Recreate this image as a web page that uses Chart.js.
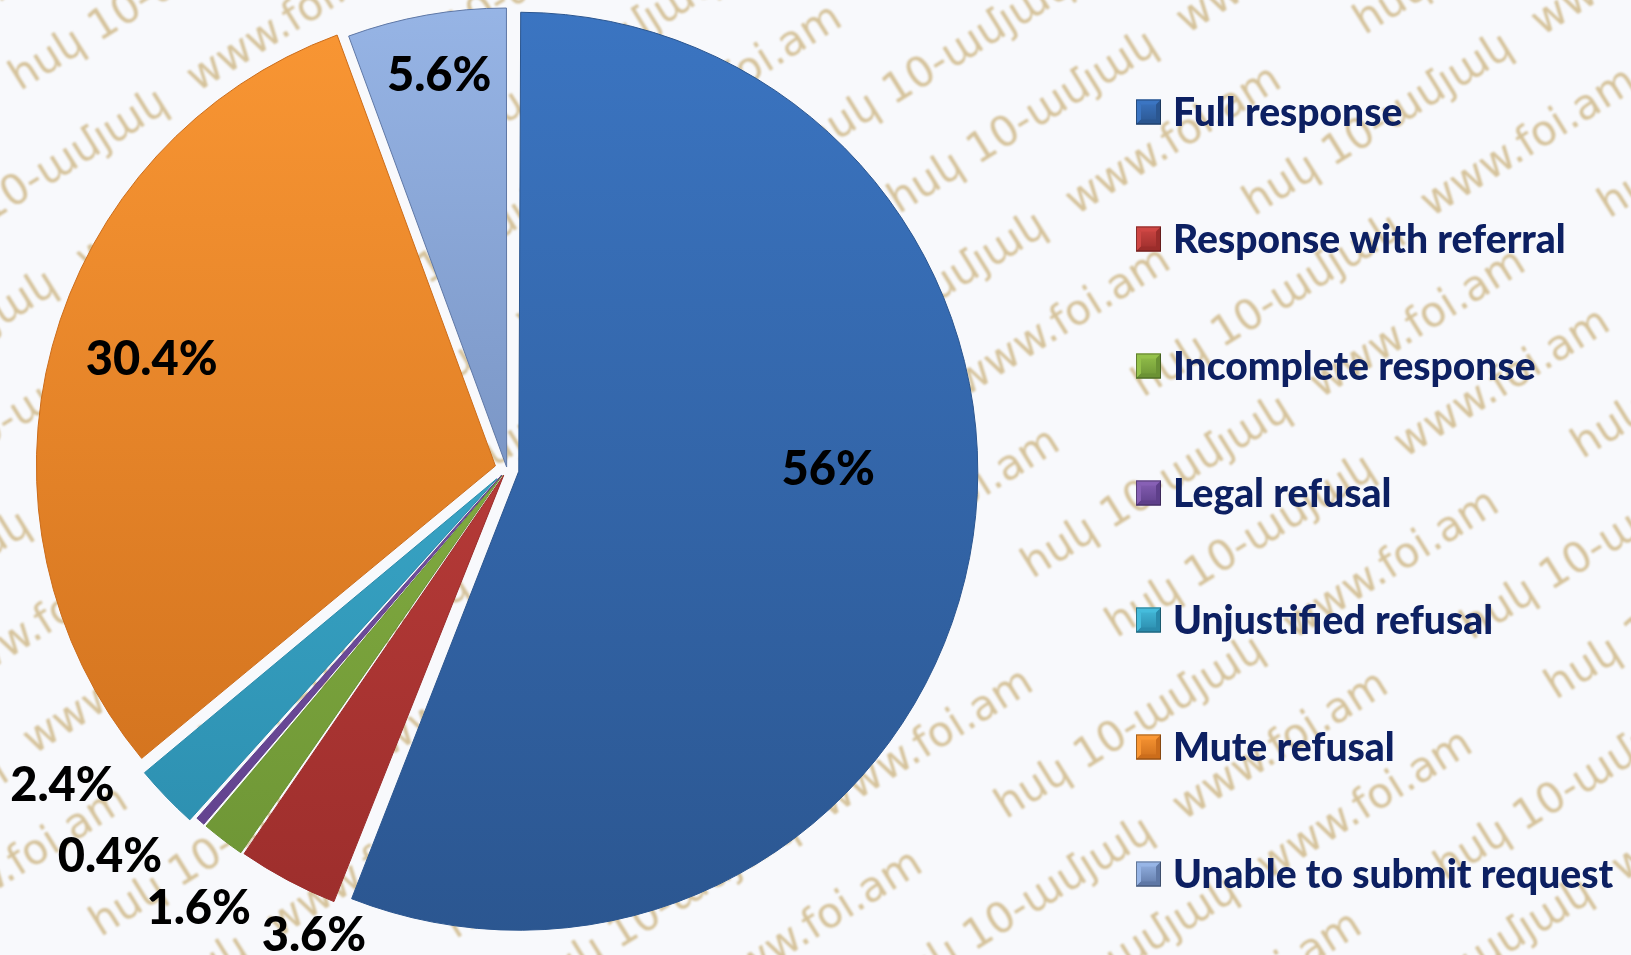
<!DOCTYPE html>
<html>
<head>
<meta charset="utf-8">
<script src="https://cdn.jsdelivr.net/npm/chart.js@4.4.1/dist/chart.umd.min.js"></script>
<style>
  html, body { margin: 0; padding: 0; background: #f8f9fc; }
  canvas { display: block; }
</style>
</head>
<body>
<canvas id="myChart" width="1631" height="955"></canvas>
<script>
// data
const categories = ['Full response', 'Response with referral', 'Incomplete response', 'Legal refusal',
                    'Unjustified refusal', 'Mute refusal', 'Unable to submit request'];
const shares = [56, 3.6, 1.6, 0.4, 2.4, 30.4, 5.6];

// look
const lightColors = ['#3b75c2', '#cf4744', '#95c24b', '#8760b5', '#45bcdc', '#fa9734', '#97b5e6'];
const darkColors  = ['#2b5690', '#9b2d2b', '#6b9234', '#5e3f8a', '#2a8aab', '#cc6d1b', '#5f78a6'];
const explode = [12, 7, 8, 8, 14, 12, 2];           // px each slice is pulled out
const labelDist = [0.70, 1.10, 1.17, 1.21, 1.19, 0.81, 0.87]; // x radius
const labelTurn = [-10.6, -5.6, -2.4, 4.6, 8.4, 2, 0.3];      // degrees from mid angle
const pieRadius = 459;

function sliceFill(context) {
  const i = context.dataIndex;
  const area = context.chart.chartArea;
  if (!area) return lightColors[i];
  const g = context.chart.ctx.createLinearGradient(0, area.top, 0, area.bottom);
  g.addColorStop(0, lightColors[i]);
  g.addColorStop(1, darkColors[i]);
  return g;
}

// background + watermark
const watermark = {
  id: 'watermark',
  beforeDraw(chart) {
    const {ctx, width, height} = chart;
    ctx.save();
    ctx.fillStyle = '#f8f9fc';
    ctx.fillRect(0, 0, width, height);
    ctx.translate(width / 2, height / 2);
    ctx.rotate(-32 * Math.PI / 180);
    ctx.filter = 'blur(0.8px)';
    ctx.font = '42px "DejaVu Sans"';
    ctx.fillStyle = 'rgba(190, 158, 90, 0.6)';
    ctx.textBaseline = 'middle';
    for (let row = -10; row <= 10; row++) {
      const shift = (row % 3) * 150;
      for (let col = -5; col <= 5; col++) {
        const txt = (col + row) % 2 === 0 ? 'հսկ 10-ամյակ' : 'www.foi.am';
        ctx.fillText(txt, col * 340 + shift - 170, row * 95);
      }
    }
    ctx.restore();
  }
};

// keep exploded slices the same size (arc offset also grows radius)
const evenRadius = {
  id: 'evenRadius',
  afterDatasetsUpdate(chart) {
    chart.getDatasetMeta(0).data.forEach(arc => {
      const t = (arc.options.offset || 0) / 4;
      const fix = 1 - Math.sin(Math.min(Math.PI, arc.circumference));
      arc.outerRadius = pieRadius - t * fix;
    });
  }
};

// percentage labels
const sliceLabels = {
  id: 'sliceLabels',
  afterDatasetsDraw(chart) {
    const {ctx} = chart;
    ctx.save();
    ctx.font = '900 47px Lato';
    ctx.fillStyle = '#000';
    ctx.textAlign = 'center';
    ctx.textBaseline = 'middle';
    chart.getDatasetMeta(0).data.forEach((arc, i) => {
      const mid = (arc.startAngle + arc.endAngle) / 2 + labelTurn[i] * Math.PI / 180;
      const d = labelDist[i] * pieRadius;
      ctx.fillText(shares[i] + '%', arc.x + Math.cos(mid) * d, arc.y + Math.sin(mid) * d);
    });
    ctx.restore();
  }
};

// legend on the right with bevelled boxes
const sideLegend = {
  id: 'sideLegend',
  afterDraw(chart, args, opts) {
    const {ctx} = chart;
    const s = opts.box;
    ctx.save();
    categories.forEach((label, i) => {
      const y = opts.top + i * opts.step;
      const x0 = opts.boxX, y0 = y - s / 2, k = 5;
      const faces = [
        [[x0, y0], [x0 + s, y0], [x0 + s - k, y0 + k], [x0 + k, y0 + k], lightColors[i]],
        [[x0, y0], [x0 + k, y0 + k], [x0 + k, y0 + s - k], [x0, y0 + s], lightColors[i]],
        [[x0 + s, y0], [x0 + s, y0 + s], [x0 + s - k, y0 + s - k], [x0 + s - k, y0 + k], darkColors[i]],
        [[x0, y0 + s], [x0 + k, y0 + s - k], [x0 + s - k, y0 + s - k], [x0 + s, y0 + s], darkColors[i]]
      ];
      const g = ctx.createLinearGradient(0, y0, 0, y0 + s);
      g.addColorStop(0, lightColors[i]);
      g.addColorStop(1, darkColors[i]);
      ctx.fillStyle = g;
      ctx.fillRect(x0, y0, s, s);
      faces.forEach(f => {
        ctx.beginPath();
        ctx.moveTo(f[0][0], f[0][1]);
        for (let j = 1; j < 4; j++) ctx.lineTo(f[j][0], f[j][1]);
        ctx.closePath();
        ctx.fillStyle = f[4];
        ctx.fill();
      });
      ctx.strokeStyle = 'rgba(0,0,0,0.35)';
      ctx.lineWidth = 1;
      ctx.strokeRect(x0 + 0.5, y0 + 0.5, s - 1, s - 1);

      ctx.font = '900 39px Lato';
      ctx.fillStyle = '#0d2062';
      ctx.textAlign = 'left';
      ctx.textBaseline = 'middle';
      ctx.fillText(label, opts.textX, y + 1);
    });
    ctx.restore();
  }
};

const ctx = document.getElementById('myChart');

new Chart(ctx, {
  type: 'pie',
  data: {
    labels: categories,
    datasets: [{
      data: shares,
      backgroundColor: sliceFill,
      borderColor: darkColors,
      borderWidth: 1,
      offset: explode.map(v => v * 4),
      radius: pieRadius
    }]
  },
  options: {
    responsive: false,
    animation: false,
    events: [],
    layout: { padding: { left: 0, top: 0, right: 617, bottom: 17 } },
    plugins: {
      legend: { display: false },
      tooltip: { enabled: false },
      sideLegend: { boxX: 1136, box: 25, textX: 1173, top: 112, step: 127 }
    }
  },
  plugins: [watermark, evenRadius, sliceLabels, sideLegend]
});
</script>
</body>
</html>
